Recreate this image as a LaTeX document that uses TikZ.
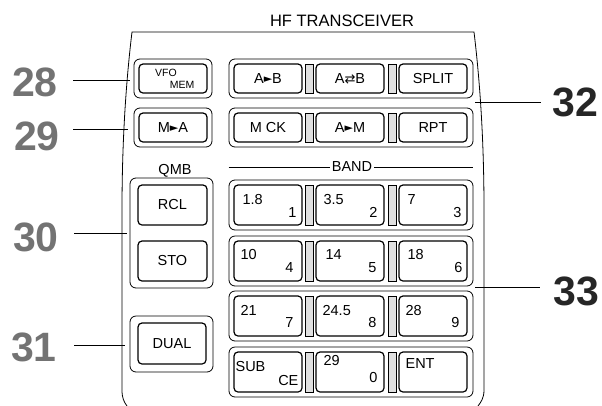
\documentclass[tikz,border=0pt]{standalone}
\usepackage{fontspec}
\setmainfont{Liberation Sans}
\newfontfamily\symfont{DejaVu Sans}
\newcommand{\toarr}{{\symfont\fontsize{11}{11}\selectfont\raisebox{0.6pt}{►}}}
\newcommand{\swaparr}{{\symfont\fontsize{13}{13}\selectfont ⇄}}
\begin{document}
\begin{tikzpicture}[x=1pt, y=-1pt,
  grp/.style={draw, rounded corners=6pt, line width=0.8pt, inner sep=0pt},
  btn/.style={draw, rounded corners=4pt, line width=1.2pt, inner sep=0pt, font=\fontsize{14.5}{15}\selectfont},
  divider/.style={draw, fill=black!12, line width=0.6pt, minimum width=8pt, inner sep=0pt},
  keylbl/.style={font=\fontsize{14.5}{15}\selectfont, inner sep=0pt},
  callout/.style={font=\fontsize{41}{41}\selectfont\bfseries, inner sep=0pt},
  leader/.style={line width=0.7pt}]
\useasboundingbox (0,0) rectangle (602,405);
\draw[line width=0.8pt] (127,406) .. controls (124,402) and (122,398) .. (122,390) -- (122,210)
  .. controls (122,150) and (125,90) .. (132,32) -- (474,32)
  .. controls (481,90) and (484,150) .. (484,210) -- (484,390)
  .. controls (484,398) and (481,402) .. (478,406);
\node[font=\fontsize{16.5}{17}\selectfont, inner sep=0pt] (title) at (342,20.5) {HF TRANSCEIVER};

\node[grp, minimum width=78pt, minimum height=39pt] (gvfo) at (173,78.5) {};
\node[btn, minimum width=68pt, minimum height=29pt] (vfo) at (gvfo) {};
\node[font=\fontsize{10.5}{11}\selectfont, inner sep=0pt] (vfol) at (166,73) {VFO};
\node[font=\fontsize{10.5}{11}\selectfont, inner sep=0pt] (meml) at (182,84.5) {MEM};
\node[grp, minimum width=78pt, minimum height=39pt] (gma) at (173,127.5) {};
\node[btn, minimum width=68pt, minimum height=29pt] (ma) at (gma) {M\toarr A};

\node[keylbl] (qmb) at (175,171) {QMB};
\node[grp, minimum width=83pt, minimum height=110pt] (gqmb) at (171.5,233) {};
\node[btn, minimum width=69pt, minimum height=40pt] (rcl) at (172.5,205) {RCL};
\node[btn, minimum width=69pt, minimum height=40pt] (sto) at (172.5,261) {STO};
\node[grp, minimum width=83pt, minimum height=56pt] (gdual) at (171.5,344) {};
\node[btn, minimum width=68pt, minimum height=41pt] (dual) at (172,343.5) {DUAL};

\node[grp, minimum width=244pt, minimum height=39pt] (row1) at (351,78.5) {};
\node[btn, minimum width=68pt, minimum height=29pt] (ab) at (268,78.5) {A\toarr B};
\node[divider, minimum height=29pt] (d11) at (309,78.5) {};
\node[btn, minimum width=68pt, minimum height=29pt] (aswb) at (350,78.5) {A\swaparr B};
\node[divider, minimum height=29pt] (d12) at (392,78.5) {};
\node[btn, minimum width=68pt, minimum height=29pt] (split) at (433,78.5) {SPLIT};

\node[grp, minimum width=244pt, minimum height=39pt] (row2) at (351,127.5) {};
\node[btn, minimum width=68pt, minimum height=29pt] (mck) at (268,127.5) {M CK};
\node[divider, minimum height=29pt] (d21) at (309,127.5) {};
\node[btn, minimum width=68pt, minimum height=29pt] (am) at (350,127.5) {A\toarr M};
\node[divider, minimum height=29pt] (d22) at (392,127.5) {};
\node[btn, minimum width=68pt, minimum height=29pt] (rpt) at (433,127.5) {RPT};

\node[keylbl, inner xsep=2pt] (band) at (352,167) {BAND};
\draw[leader] (row2.west |- band) -- (band.west);
\draw[leader] (band.east) -- (row2.east |- band);

\node[grp, minimum width=244pt, minimum height=50pt] (brow1) at (351,205) {};
\node[btn, minimum width=68pt, minimum height=40pt] (k1) at (268,205) {};
\node[divider, minimum height=40pt] (d31) at (309,205) {};
\node[btn, minimum width=68pt, minimum height=40pt] (k2) at (350,205) {};
\node[divider, minimum height=40pt] (d32) at (392,205) {};
\node[btn, minimum width=68pt, minimum height=40pt] (k3) at (433,205) {};
\node[keylbl, anchor=north west] (t1a) at ([shift={(9,10)}]k1.north west) {1.8};
\node[keylbl, anchor=south east] (t1b) at ([shift={(-6,-8)}]k1.south east) {1};
\node[keylbl, anchor=north west] (t2a) at ([shift={(8,10)}]k2.north west) {3.5};
\node[keylbl, anchor=south east] (t2b) at ([shift={(-7,-8)}]k2.south east) {2};
\node[keylbl, anchor=north west] (t3a) at ([shift={(9,10)}]k3.north west) {7};
\node[keylbl, anchor=south east] (t3b) at ([shift={(-6,-8)}]k3.south east) {3};

\node[grp, minimum width=244pt, minimum height=50pt] (brow2) at (351,261) {};
\node[btn, minimum width=68pt, minimum height=40pt] (k4) at (268,261) {};
\node[divider, minimum height=40pt] (d41) at (309,261) {};
\node[btn, minimum width=68pt, minimum height=40pt] (k5) at (350,261) {};
\node[divider, minimum height=40pt] (d42) at (392,261) {};
\node[btn, minimum width=68pt, minimum height=40pt] (k6) at (433,261) {};
\node[keylbl, anchor=north west] (t4a) at ([shift={(7,9)}]k4.north west) {10};
\node[keylbl, anchor=south east] (t4b) at ([shift={(-9,-9)}]k4.south east) {4};
\node[keylbl, anchor=north west] (t5a) at ([shift={(10,9)}]k5.north west) {14};
\node[keylbl, anchor=south east] (t5b) at ([shift={(-8,-9)}]k5.south east) {5};
\node[keylbl, anchor=north west] (t6a) at ([shift={(9,9)}]k6.north west) {18};
\node[keylbl, anchor=south east] (t6b) at ([shift={(-5,-9)}]k6.south east) {6};

\node[grp, minimum width=244pt, minimum height=50pt] (brow3) at (351,316) {};
\node[btn, minimum width=68pt, minimum height=40pt] (k7) at (268,316) {};
\node[divider, minimum height=40pt] (d51) at (309,316) {};
\node[btn, minimum width=68pt, minimum height=40pt] (k8) at (350,316) {};
\node[divider, minimum height=40pt] (d52) at (392,316) {};
\node[btn, minimum width=68pt, minimum height=40pt] (k9) at (433,316) {};
\node[keylbl, anchor=north west] (t7a) at ([shift={(7,10)}]k7.north west) {21};
\node[keylbl, anchor=south east] (t7b) at ([shift={(-9,-9)}]k7.south east) {7};
\node[keylbl, anchor=north west] (t8a) at ([shift={(7,10)}]k8.north west) {24.5};
\node[keylbl, anchor=south east] (t8b) at ([shift={(-8,-9)}]k8.south east) {8};
\node[keylbl, anchor=north west] (t9a) at ([shift={(7,10)}]k9.north west) {28};
\node[keylbl, anchor=south east] (t9b) at ([shift={(-8,-9)}]k9.south east) {9};

\node[grp, minimum width=244pt, minimum height=50pt] (brow4) at (351,372) {};
\node[btn, minimum width=68pt, minimum height=40pt] (ksub) at (268,372) {};
\node[divider, minimum height=40pt] (d61) at (309,372) {};
\node[btn, minimum width=68pt, minimum height=40pt] (k0) at (350,372) {};
\node[divider, minimum height=40pt] (d62) at (392,372) {};
\node[btn, minimum width=68pt, minimum height=40pt] (kent) at (433,372) {};
\node[keylbl, anchor=north west] (tsub) at ([shift={(2,10)}]ksub.north west) {SUB};
\node[keylbl, anchor=south east] (tce) at ([shift={(-4,-7)}]ksub.south east) {CE};
\node[keylbl, anchor=north west] (t0a) at ([shift={(8,4)}]k0.north west) {29};
\node[keylbl, anchor=south east] (t0b) at ([shift={(-7,-10)}]k0.south east) {0};
\node[keylbl, anchor=north west] (tent) at ([shift={(7,7)}]kent.north west) {ENT};

\node[callout, text=black!55] (c28) at (35,82) {28};
\node[callout, text=black!55] (c29) at (37,136) {29};
\node[callout, text=black!55] (c30) at (36,237) {30};
\node[callout, text=black!55] (c31) at (34,347) {31};
\node[callout, text=black!85] (c32) at (575,102) {32};
\node[callout, text=black!85] (c33) at (576,291) {33};
\coordinate (e28) at (130,80);
\coordinate (e29) at (128,129);
\coordinate (e30) at (127,233);
\coordinate (e31) at (125,345);
\coordinate (e32) at (475,102);
\coordinate (e33) at (475,287);
\draw[leader, shorten <=15pt] (c28.east |- e28) -- (e28);
\draw[leader, shorten <=13pt] (c29.east |- e29) -- (e29);
\draw[leader, shorten <=15pt] (c30.east |- e30) -- (e30);
\draw[leader, shorten <=17pt] (c31.east |- e31) -- (e31);
\draw[leader, shorten >=11pt] (e32) -- (c32.west |- e32);
\draw[leader, shorten >=13pt] (e33) -- (c33.west |- e33);
\end{tikzpicture}
\end{document}
